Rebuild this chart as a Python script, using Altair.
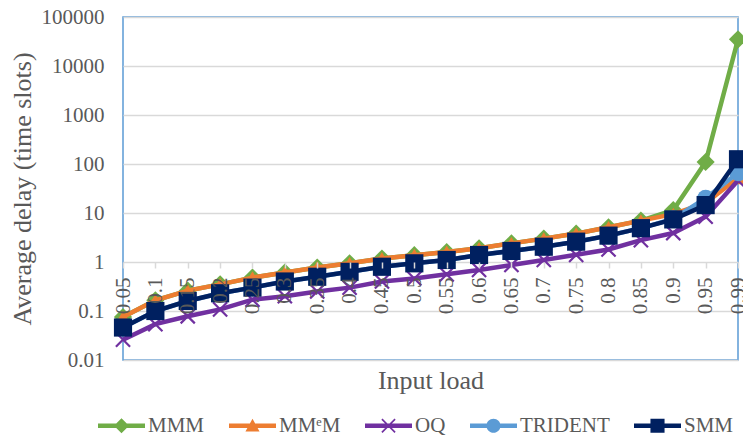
import altair as alt
import pandas as pd

loads = ["0.05", "0.1", "0.15", "0.2", "0.25", "0.3", "0.35", "0.4", "0.45", "0.5",
         "0.55", "0.6", "0.65", "0.7", "0.75", "0.8", "0.85", "0.9", "0.95", "0.99"]

mmm = [0.075, 0.165, 0.26, 0.35, 0.48, 0.61, 0.77, 0.94, 1.18, 1.38,
       1.6, 1.9, 2.4, 3.0, 3.8, 5.1, 7.0, 11.5, 110, 35000]
mmem = [0.075, 0.165, 0.26, 0.35, 0.48, 0.61, 0.77, 0.94, 1.18, 1.38,
        1.6, 1.9, 2.4, 3.0, 3.8, 5.1, 7.0, 9.5, 16, 52]
oq = [0.026, 0.054, 0.078, 0.108, 0.17, 0.2, 0.25, 0.3, 0.4, 0.46,
      0.56, 0.69, 0.87, 1.1, 1.4, 1.8, 2.8, 3.9, 8.4, 46]
trident = [0.046, 0.10, 0.16, 0.23, 0.30, 0.40, 0.50, 0.63, 0.80, 0.94,
           1.1, 1.39, 1.68, 2.05, 2.6, 3.45, 4.9, 7.6, 20, 66]
smm = [0.046, 0.10, 0.16, 0.23, 0.30, 0.40, 0.50, 0.63, 0.80, 0.94,
       1.1, 1.39, 1.68, 2.05, 2.6, 3.45, 4.9, 7.4, 14.5, 125]

series_names = ["MMM", "MMᵉM", "OQ", "TRIDENT", "SMM"]
series_colors = ["#70AD47", "#ED7D31", "#7030A0", "#5B9BD5", "#002060"]
series_values = [mmm, mmem, oq, trident, smm]

rows = []
for name, vals in zip(series_names, series_values):
    for l, v in zip(loads, vals):
        rows.append({"load": l, "delay": v, "series": name})
df = pd.DataFrame(rows)

FONT = "Liberation Serif"
TXT = "#595959"

x_enc = alt.X(
    "load:O", sort=loads,
    scale=alt.Scale(type="point", padding=0),
    axis=alt.Axis(
        title="Input load", labelAngle=-90, labelFont=FONT, labelFontSize=21,
        labelColor=TXT, labelPadding=9, ticks=True, tickSize=6, tickColor="#D9D9D9",
        tickWidth=1.5, domain=False, grid=False, offset=-98, labelOverlap=False,
        labelFlush=False, titleFont=FONT, titleFontSize=26, titleColor=TXT,
        titleFontWeight="normal", titleY=118, titleBaseline="middle", zindex=1,
    ),
)
y_enc = alt.Y(
    "delay:Q",
    scale=alt.Scale(type="log", domain=[0.01, 100000]),
    axis=alt.Axis(
        title="Average delay (time slots)", values=[0.01, 0.1, 1, 10, 100, 1000, 10000, 100000],
        format="~g", labelFont=FONT, labelFontSize=21, labelColor=TXT, labelPadding=19,
        ticks=False, tickSize=0, domain=False, grid=True, gridColor="#D9D9D9", gridWidth=1.5,
        titleFont=FONT, titleFontSize=26, titleColor=TXT, titleFontWeight="normal",
        titleX=-101, titleY=171.5, titleBaseline="middle", titleAngle=-90,
    ),
)

x_path = ("M-0.89,-1.11L1.11,0.89L0.89,1.11L-1.11,-0.89Z"
          "M1.11,-0.89L-0.89,1.11L-1.11,0.89L0.89,-1.11Z")
marker_shapes = ["diamond", "triangle-up", x_path, "circle", "square"]
marker_sizes = [330, 220, 200, 290, 330]

bar = "M-1,-0.1L1,-0.1L1,0.1L-1,0.1Z"
legend_paths = [
    bar + "M0,-0.32L0.32,0L0,0.32L-0.32,0Z",
    bar + "M0,-0.3L0.3,0.24L-0.3,0.24Z",
    bar + ("M-0.255,-0.305L0.305,0.255L0.255,0.305L-0.305,-0.255Z"
           "M0.305,-0.255L-0.255,0.305L-0.305,0.255L0.255,-0.305Z"),
    bar + "M-0.3,0A0.3,0.3 0 1,1 0.3,0A0.3,0.3 0 1,1 -0.3,0Z",
    bar + "M-0.3,-0.3L0.3,-0.3L0.3,0.3L-0.3,0.3Z",
]

base = alt.Chart(df)
layers = []
for name, col, shp, sz in zip(series_names, series_colors, marker_shapes, marker_sizes):
    sub = base.transform_filter(alt.datum.series == name)
    layers.append(sub.mark_line(color=col, strokeWidth=4.5).encode(x=x_enc, y=y_enc))
    layers.append(sub.mark_point(shape=shp, filled=True, size=sz, color=col, opacity=1)
                  .encode(x=x_enc, y=y_enc))

leg = alt.Legend(
    orient="none", legendX=-25, legendY=385, direction="horizontal", title=None,
    labelFont=FONT, labelFontSize=21, labelColor=TXT, symbolSize=2209,
    symbolStrokeWidth=0, labelOffset=3, columnPadding=24, padding=0,
)
legend_layer = base.transform_filter("false").mark_point(filled=True, opacity=1).encode(
    x=x_enc, y=y_enc,
    color=alt.Color("series:N", scale=alt.Scale(domain=series_names, range=series_colors), legend=leg),
    shape=alt.Shape("series:N", scale=alt.Scale(domain=series_names, range=legend_paths), legend=leg),
)
layers.append(legend_layer)

chart = alt.layer(*layers).properties(
    width=615, height=343,
    autosize=alt.AutoSizeParams(type="none"),
    padding={"left": 123, "top": 17, "right": 5, "bottom": 78},
    background="white",
).configure_view(stroke="#5B9BD5", strokeWidth=1.5)

chart.save("out.html", embed_options={"renderer": "svg", "actions": False})
